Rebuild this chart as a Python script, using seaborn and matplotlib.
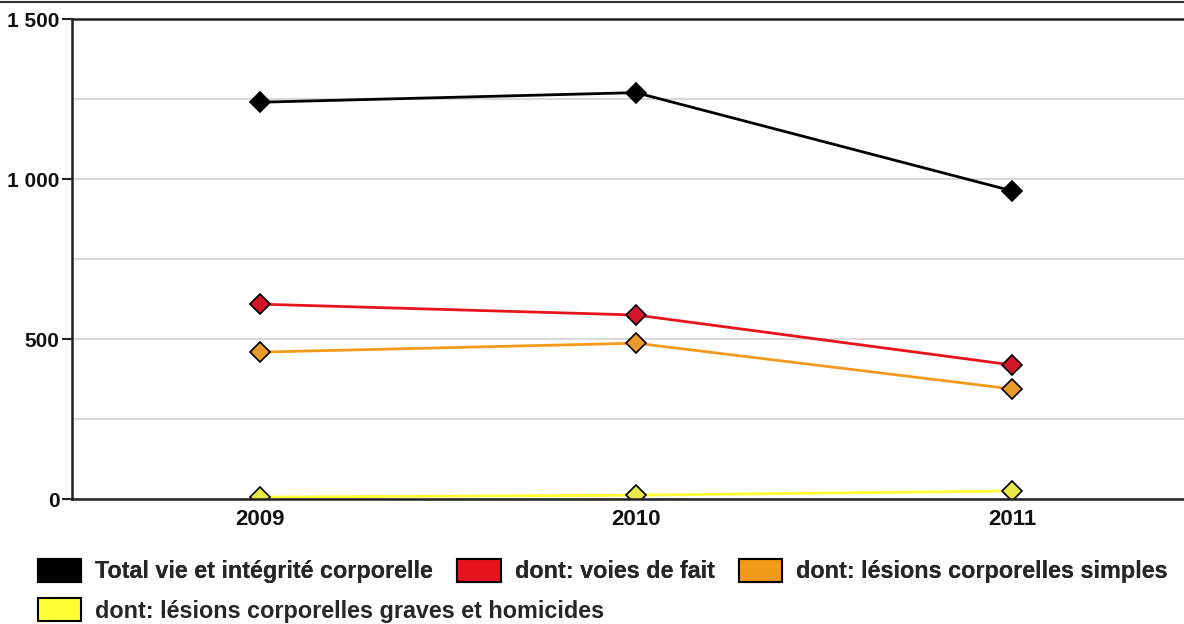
import pandas as pd
import matplotlib.pyplot as plt
import seaborn as sns
from matplotlib.patches import Patch
from matplotlib.ticker import FuncFormatter, MultipleLocator

# data
years = [2009, 2010, 2011]
total = [1240, 1270, 963]
voies_de_fait = [609, 575, 419]
lesions_simples = [459, 487, 344]
lesions_graves = [6, 12, 25]

labels = ['Total vie et intégrité corporelle',
          'dont: voies de fait',
          'dont: lésions corporelles simples',
          'dont: lésions corporelles graves et homicides']
colors = ['#000000', '#e8141c', '#f39a1c', '#ffff33']
marker_colors = ['#000000', '#d4142a', '#e89a2a', '#e8e84a']

df = pd.DataFrame({
    'year': years * 4,
    'value': total + voies_de_fait + lesions_simples + lesions_graves,
    'series': [labels[0]] * 3 + [labels[1]] * 3 + [labels[2]] * 3 + [labels[3]] * 3,
})

sns.set_style('white')
plt.rcParams['font.family'] = ['Liberation Sans', 'DejaVu Sans']
plt.rcParams['font.weight'] = 'bold'

fig = plt.figure(figsize=(11.84, 6.24), dpi=100)
ax = fig.add_axes([0.0608, 0.2003, 0.94, 0.7692])

# draw yellow first so black ends on top
for i, lab in enumerate(labels[::-1]):
    idx = len(labels) - 1 - i
    sub = df[df['series'] == lab]
    sns.lineplot(data=sub, x='year', y='value', color=colors[idx], lw=2,
                 marker='D', markersize=10, markerfacecolor=marker_colors[idx],
                 markeredgecolor='black', markeredgewidth=1.2, ax=ax, legend=False)

ax.set_xlim(2008.5, 2011.46)
ax.set_ylim(0, 1500)
ax.set_xticks(years)
ax.set_xticklabels([str(y) for y in years])
ax.yaxis.set_major_locator(MultipleLocator(500))
ax.yaxis.set_minor_locator(MultipleLocator(250))
ax.yaxis.set_major_formatter(FuncFormatter(lambda v, p: f'{int(v):,}'.replace(',', ' ')))
ax.grid(axis='y', which='both', color='#d9d9d9', lw=1.5)
ax.set_axisbelow(True)
ax.set_xlabel('')
ax.set_ylabel('')
ax.tick_params(axis='y', which='major', length=7, width=1.5, color='#222222',
               labelsize=15, pad=2, left=True)
ax.tick_params(axis='y', which='minor', length=0)
ax.tick_params(axis='x', length=0, labelsize=16, pad=7)
for lbl in ax.get_xticklabels() + ax.get_yticklabels():
    lbl.set_fontweight('bold')
    lbl.set_color('#111111')

for s in ['left', 'bottom', 'top']:
    ax.spines[s].set_color('#222222')
    ax.spines[s].set_linewidth(1.8)
ax.spines['right'].set_visible(False)

fig.add_artist(plt.Line2D([0, 1], [0.9965, 0.9965], transform=fig.transFigure,
                          color='#333333', lw=1.5))

handles = [Patch(facecolor=c, edgecolor='black', lw=1.5) for c in colors]
leg_kw = dict(frameon=False, handlelength=1.85, handleheight=1.1, handletextpad=0.6,
              columnspacing=1.05, borderaxespad=0, borderpad=0,
              prop={'size': 16.8, 'weight': 'bold'})
leg1 = fig.legend(handles[:3], labels[:3], ncol=3, loc='upper left',
                  bbox_to_anchor=(0.032, 0.104), **leg_kw)
fig.add_artist(leg1)
fig.legend(handles[3:], labels[3:], loc='upper left',
           bbox_to_anchor=(0.032, 0.041), **leg_kw)

fig.savefig('out.png', dpi=100)
